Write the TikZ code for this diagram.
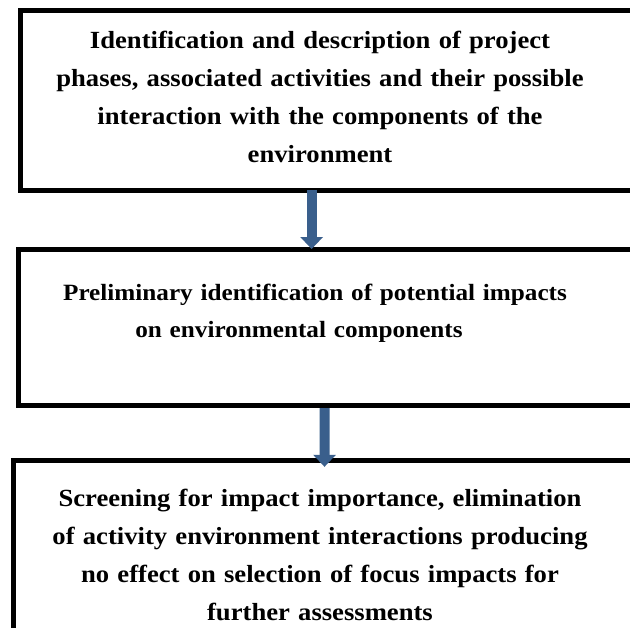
\documentclass[tikz,border=0pt]{standalone}
\usepackage{fontspec}
\setmainfont{Liberation Serif}[FakeStretch=1.08]
\usepackage{xcolor}
\usetikzlibrary{arrows.meta}
\usetikzlibrary{positioning}
\definecolor{flowblue}{RGB}{58,95,140}

\begin{document}
\begin{tikzpicture}[x=0.75pt,y=-0.75pt,
        stepframe/.style={draw, rectangle, line width=3.75pt, anchor=north west, minimum width=525pt, inner sep=0pt},
        steptext/.style={text width=465pt, align=center, inner sep=0pt, font=\bfseries\fontsize{18.5}{28.7}\selectfont},
        flow/.style={flowblue, line width=7.5pt, -{Triangle[width=16.5pt, length=9pt]}}]
            \path[use as bounding box, clip] (0,0) rectangle (630,627);

            \node[stepframe, minimum height=134.25pt] (b1) at (17.5,8.5) {};
            \node[stepframe, minimum height=117pt] (b2) at (15.5,246.5) {};
            \node[stepframe, minimum height=150pt] (b3) at (10.5,457.5) {};

            \node[steptext] (t1) at (320,97) {Identification and description of project\\ phases, associated activities and their possible\\ interaction with the components of the\\ environment};
            \node[steptext, font=\bfseries\fontsize{17.5}{28}\selectfont] (t2) at (315,313) {Preliminary identification of potential impacts\\ on environmental components\hbox to 24pt{}};
            \node[steptext] (t3) at (320,555) {Screening for impact importance, elimination\\ of activity environment interactions producing\\ no effect on selection of focus impacts for\\ further assessments};

            \draw[flow] ([xshift=220.6pt, yshift=2pt]b1.south west) -- ([xshift=222.1pt, yshift=-1.9pt]b2.north west);
            \draw[flow] ([xshift=231.8pt, yshift=-0.5pt]b2.south west) -- ([xshift=235.5pt, yshift=-7pt]b3.north west);
        \end{tikzpicture}
\end{document}
